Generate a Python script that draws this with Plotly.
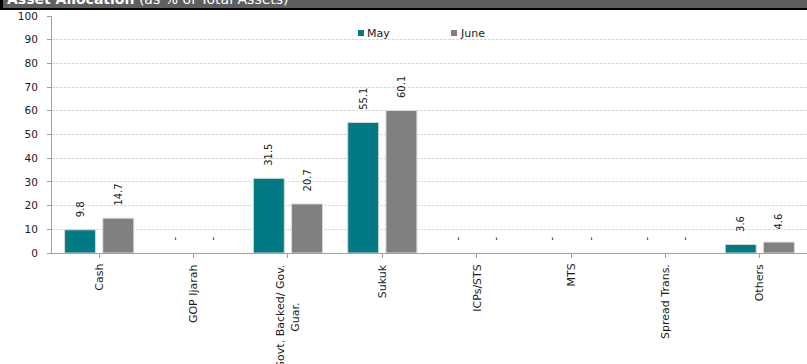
import plotly.graph_objects as go

categories = ["Cash", "GOP Ijarah", "Govt. Backed/ Gov.<br>Guar.", "Sukuk", "ICPs/STS", "MTS", "Spread Trans.", "Others"]
may = [9.8, 0, 31.5, 55.1, 0, 0, 0, 3.6]
june = [14.7, 0, 20.7, 60.1, 0, 0, 0, 4.6]
series_names = ["May", "June"]
colors = ["#017A83", "#808080"]

W, H = 807, 364
ML, MR, MT, MB = 52, 0, 16, 111
PW, PH = W - ML - MR, H - MT - MB

def lab(v):
    s = "-" if v == 0 else f"{v:.1f}"
    return "\u00a0\u00a0\u00a0" + s

def py(pix):
    return 1 + (MT - pix) / PH

def px(pix):
    return (pix - ML) / PW

fig = go.Figure()
for name, vals, col in zip(series_names, [may, june], colors):
    fig.add_trace(go.Bar(
        x=list(range(len(categories))), y=vals, name=name,
        marker=dict(color=col, line=dict(color="#d9d9d9", width=[1 if v > 0 else 0 for v in vals])),
        text=[lab(v) for v in vals], textposition="outside", textangle=-90,
        textfont=dict(family="DejaVu Sans", size=10, color="#1a1a1a"),
        constraintext="none", cliponaxis=False, showlegend=False,
    ))

# legend (manual)
leg_x = [358, 451]
for name, col, lx in zip(series_names, colors, leg_x):
    fig.add_shape(type="rect", xref="paper", yref="paper", x0=px(lx), x1=px(lx + 6),
                  y0=py(36), y1=py(30), fillcolor=col, line=dict(width=0))
    fig.add_annotation(xref="paper", yref="paper", x=px(lx + 7), y=py(33), text=name,
                       showarrow=False, xanchor="left", yanchor="middle",
                       font=dict(family="DejaVu Sans", size=11, color="#1a1a1a"))

# category labels
for i, c in enumerate(categories):
    fig.add_annotation(x=i, y=0, xref="x", yref="paper", yshift=-9,
                       text=c, textangle=-90, showarrow=False,
                       xanchor="center", yanchor="top", align="center",
                       font=dict(family="DejaVu Sans", size=11, color="#1a1a1a"))

# header band
fig.add_shape(type="rect", xref="paper", yref="paper", x0=px(0), x1=px(W),
              y0=py(8), y1=py(-2), fillcolor="#5f5f5f", line=dict(width=0), layer="above")
fig.add_shape(type="rect", xref="paper", yref="paper", x0=px(0), x1=px(W),
              y0=py(10), y1=py(8), fillcolor="#000000", line=dict(width=0), layer="above")
fig.add_shape(type="rect", xref="paper", yref="paper", x0=px(0), x1=px(3),
              y0=py(10), y1=py(-2), fillcolor="#000000", line=dict(width=0), layer="above")
fig.add_annotation(xref="paper", yref="paper", x=px(5), y=py(9), xanchor="left", yanchor="bottom",
                   text="<b>Asset Allocation</b> (as % of Total Assets)", showarrow=False,
                   font=dict(family="DejaVu Sans", size=14, color="#ffffff"))

fig.update_layout(
    width=W, height=H, margin=dict(l=ML, r=MR, t=MT, b=MB, pad=0),
    paper_bgcolor="white", plot_bgcolor="white",
    barmode="group", bargap=0.19, bargroupgap=0.19,
    font=dict(family="DejaVu Sans", size=10, color="#1a1a1a"),
    showlegend=False,
    xaxis=dict(range=[-0.5, len(categories) - 0.5], showticklabels=False,
               tickmode="array", tickvals=list(range(len(categories))),
               ticks="outside", tickson="boundaries", ticklen=4, tickcolor="#a0a0a0",
               showline=True, linecolor="#a0a0a0", linewidth=1, showgrid=False, zeroline=False),
    yaxis=dict(range=[0, 100], dtick=10, ticks="outside", ticklen=4, tickcolor="#a0a0a0",
               ticklabelstandoff=7,
               showline=True, linecolor="#a0a0a0", linewidth=1,
               showgrid=True, gridcolor="#dadada", griddash="3px,1px", gridwidth=1,
               zeroline=False, tickfont=dict(family="DejaVu Sans", size=10.5, color="#1a1a1a")),
)

fig.write_html("out.html")
